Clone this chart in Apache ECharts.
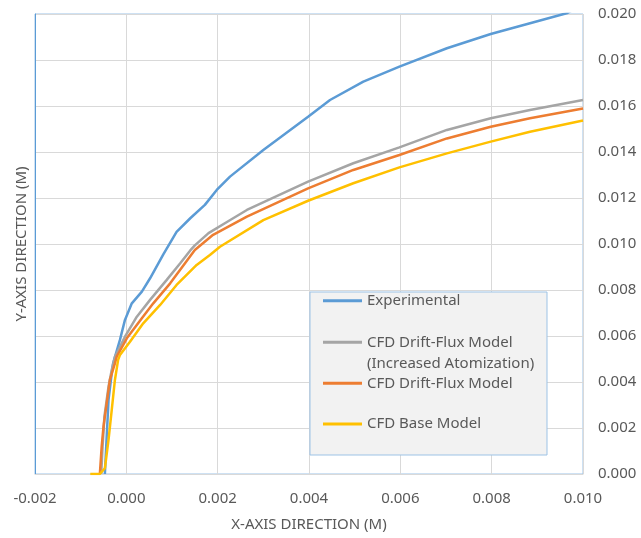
<!DOCTYPE html>
<html>
<head>
<meta charset="utf-8">
<script src="https://cdn.jsdelivr.net/npm/echarts@6/dist/echarts.min.js"></script>
<style>
  html, body { margin: 0; padding: 0; background: #fff; }
  #chart { width: 641px; height: 538px; }
</style>
</head>
<body>
<div id="chart"></div>
<script>
// x / y positions in metres
var experimental = [
  [-0.00047, 0], [-0.00043, 0.00162], [-0.00039, 0.00322], [-0.00032, 0.00438],
  [-0.00029, 0.00481], [-0.00014, 0.00583], [-0.00003, 0.0067], [0.00012, 0.00742],
  [0.00034, 0.00793], [0.00052, 0.00851], [0.00081, 0.00955], [0.0011, 0.01053],
  [0.0014, 0.01112], [0.00172, 0.0117], [0.00198, 0.01235], [0.00227, 0.01293],
  [0.003, 0.01409], [0.00398, 0.01553], [0.00446, 0.01626], [0.00519, 0.01706],
  [0.00598, 0.01771], [0.00702, 0.01851], [0.00798, 0.01913], [0.00884, 0.0196],
  [0.00964, 0.02003], [0.0100, 0.0204]
];
var driftFluxAtomization = [
  [-0.00055, 0], [-0.00052, 0.0012], [-0.00048, 0.0025], [-0.00039, 0.0038],
  [-0.00032, 0.00452], [-0.00025, 0.0051], [-0.00003, 0.00597], [0.00023, 0.00684],
  [0.00052, 0.00757], [0.00088, 0.00843], [0.00118, 0.00916], [0.0014, 0.00972],
  [0.0015, 0.00994], [0.0018, 0.01047], [0.00223, 0.01099], [0.00264, 0.01148],
  [0.00398, 0.01271], [0.00497, 0.01351], [0.00598, 0.0142], [0.00702, 0.01496],
  [0.00798, 0.01547], [0.00884, 0.01583], [0.0100, 0.01626]
];
var driftFlux = [
  [-0.00058, 0], [-0.00054, 0.00119], [-0.0005, 0.00206], [-0.00043, 0.00307],
  [-0.00036, 0.00409], [-0.00025, 0.00481], [-0.00021, 0.0051], [0.00001, 0.0059],
  [0.00034, 0.00677], [0.00059, 0.00742], [0.00096, 0.00829], [0.0015, 0.00974],
  [0.0019, 0.0104], [0.00264, 0.01119], [0.00398, 0.01242], [0.00497, 0.01322],
  [0.00598, 0.01387], [0.00702, 0.01459], [0.00798, 0.0151], [0.00884, 0.01547],
  [0.0100, 0.01589]
];
var baseModel = [
  [-0.00079, 0], [-0.00058, 0], [-0.00047, 0.00025], [-0.00039, 0.00148],
  [-0.00032, 0.00278], [-0.00025, 0.00409], [-0.00018, 0.00496], [-0.00014, 0.00517],
  [0.00008, 0.00575], [0.00037, 0.00655], [0.00074, 0.00735], [0.0011, 0.00822],
  [0.00154, 0.00909], [0.00183, 0.00952], [0.00205, 0.00988], [0.003, 0.01104],
  [0.00398, 0.01188], [0.00497, 0.01264], [0.00598, 0.01333], [0.00702, 0.01394],
  [0.00798, 0.01445], [0.00884, 0.01488], [0.0100, 0.01537]
];
var seriesNames = [
  "Experimental",
  "CFD Drift-Flux Model (Increased Atomization)",
  "CFD Drift-Flux Model",
  "CFD Base Model"
];
var seriesColors = ["#5B9BD5", "#A5A5A5", "#ED7D31", "#FFC000"];

var textColor = "#595959";
var font = "Noto Sans";

function lineSeries(i, data) {
  return {
    name: seriesNames[i],
    type: "line",
    data: data,
    symbol: "none",
    lineStyle: { color: seriesColors[i], width: 2.5 },
    itemStyle: { color: seriesColors[i] }
  };
}

// one legend per row so each sits where Excel put it
function legendRow(i, top, twoLines) {
  return {
    data: [seriesNames[i]],
    left: 323,
    top: top,
    padding: 0,
    icon: "rect",
    itemWidth: 39,
    itemHeight: 3,
    selectedMode: false,
    // blank first line keeps the swatch level with the first text line
    formatter: twoLines ? function () {
      return "\u00a0\nCFD Drift-Flux Model\n(Increased Atomization)";
    } : null,
    textStyle: { color: textColor, fontFamily: font, fontSize: 15, lineHeight: 21 }
  };
}

var chart = echarts.init(document.getElementById("chart"));
chart.setOption({
  animation: false,
  grid: {
    left: 35, right: 58, top: 14, bottom: 64,
    show: true, borderColor: "#9DC3E6", borderWidth: 1
  },
  xAxis: {
    type: "value",
    min: -0.002, max: 0.010, interval: 0.002,
    name: "X-AXIS DIRECTION (M)",
    nameLocation: "middle",
    nameGap: 43,
    nameTextStyle: { color: textColor, fontFamily: font, fontSize: 15 },
    axisLine: { show: true, onZero: false, lineStyle: { color: "#D9D9D9" } },
    axisTick: { show: false },
    axisLabel: {
      color: textColor, fontFamily: font, fontSize: 15, margin: 17,
      formatter: function (v) { return v.toFixed(3); }
    },
    splitLine: { lineStyle: { color: "#D9D9D9" } }
  },
  yAxis: [
    {
      type: "value",
      position: "right",
      min: 0, max: 0.020, interval: 0.002,
      axisLine: { show: false },
      axisTick: { show: false },
      axisLabel: {
        color: textColor, fontFamily: font, fontSize: 15, margin: 15,
        formatter: function (v) { return v.toFixed(3); }
      },
      splitLine: { lineStyle: { color: "#D9D9D9" } }
    },
    {
      type: "value",
      position: "left",
      min: 0, max: 0.020, interval: 0.002,
      name: "Y-AXIS DIRECTION (M)",
      nameLocation: "middle",
      nameGap: 6,
      nameTextStyle: { color: textColor, fontFamily: font, fontSize: 15 },
      axisLine: { show: true, lineStyle: { color: "#5B9BD5", width: 1 } },
      axisTick: { show: false },
      axisLabel: { show: false },
      splitLine: { show: false }
    }
  ],
  graphic: [{
    type: "rect",
    z: 3,
    shape: { x: 310, y: 292, width: 237, height: 163 },
    style: { fill: "#F2F2F2", stroke: "#9DC3E6", lineWidth: 1 }
  }],
  legend: [
    legendRow(0, 290.2),
    legendRow(1, 310.8, true),
    legendRow(2, 372.8),
    legendRow(3, 413.5)
  ],
  series: [
    lineSeries(0, experimental),
    lineSeries(1, driftFluxAtomization),
    lineSeries(2, driftFlux),
    lineSeries(3, baseModel)
  ]
});
</script>
</body>
</html>
